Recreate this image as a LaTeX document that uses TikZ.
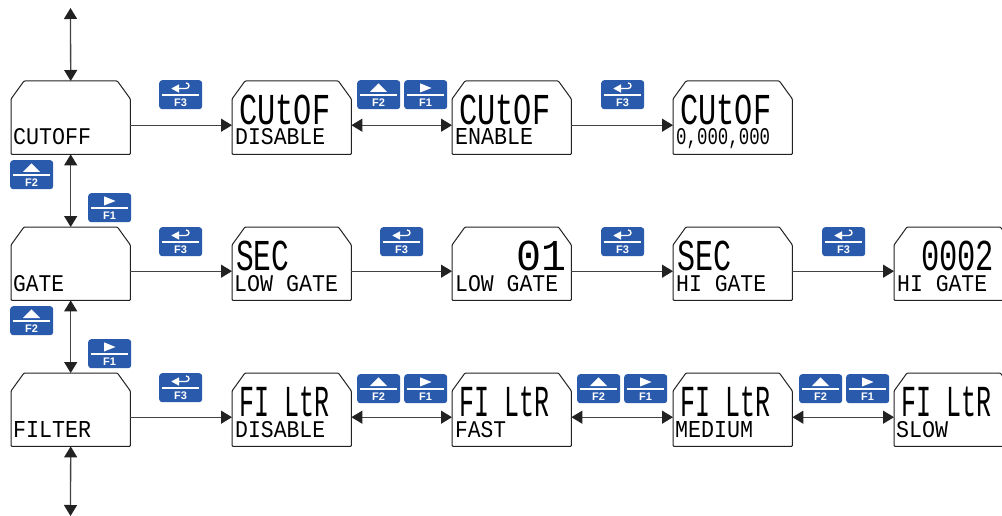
\documentclass[tikz,border=0pt]{standalone}
\usepackage{fontspec}
\usepackage{graphicx}
\setmainfont{Liberation Sans}
\newfontfamily\lcdthin{Liberation Mono}
\usetikzlibrary{arrows.meta}
\definecolor{keyblue}{HTML}{2A5AAB}
\definecolor{ink}{HTML}{222222}
\tikzset{
  lcdnode/.style={anchor=north west,minimum width=119pt,minimum height=73pt,inner sep=0pt},
  boxline/.style={draw=ink,line width=1pt,rounded corners=1pt},
  conn/.style={draw=ink!85,line width=1.3pt},
  tip1/.style={-{Triangle[length=11pt,width=13pt,color=ink]}},
  tip2/.style={{Triangle[length=11pt,width=13pt,color=ink]}-{Triangle[length=11pt,width=13pt,color=ink]}},
  keynode/.style={anchor=north west,minimum width=43pt,minimum height=29pt,inner sep=0pt,fill=keyblue,rounded corners=3pt},
  keylabel/.style={inner sep=0pt,text=white,font=\fontsize{11}{12}\selectfont\bfseries},
  lcdtext/.style={anchor=base west,inner sep=0pt,text=black}
}
% name, x, y of the top left corner
\newcommand{\lcdbox}[3]{%
  \node[lcdnode] (#1) at (#2,#3) {};
  \draw[boxline] ([yshift=-18pt]#1.north west) -- ([xshift=13pt]#1.north west) -- ([xshift=-13pt]#1.north east) -- ([yshift=-18pt]#1.north east) -- (#1.south east) -- (#1.south west) -- cycle;
}
% name, x, baseline y, width, text
\newcommand{\smalltxt}[5]{\node[lcdtext] (#1) at (#2,#3) {\resizebox{#4pt}{16pt}{\lcdthin #5}};}
\newcommand{\bigtxt}[5]{\node[lcdtext] (#1) at (#2,#3) {\resizebox{#4pt}{29.5pt}{\lcdthin #5}};}
% buttons: name, x, y
\newcommand{\keybase}[4]{%
  \node[keynode] (#1) at (#2,#3) {};
  \node[keylabel] (#1l) at ([shift={(21.5pt,-22.5pt)}]#1.north west) {#4};
  \draw[white,line width=1.3pt] ([shift={(2.5pt,-15pt)}]#1.north west) -- ([shift={(39.5pt,-15pt)}]#1.north west);
}
\newcommand{\keyup}[3]{\keybase{#1}{#2}{#3}{F2}
  \fill[white] ([shift={(21.5pt,-3.3pt)}]#1.north west) -- ([shift={(30pt,-12pt)}]#1.north west) -- ([shift={(13pt,-12pt)}]#1.north west) -- cycle;}
\newcommand{\keyright}[3]{\keybase{#1}{#2}{#3}{F1}
  \fill[white] ([shift={(16pt,-3.3pt)}]#1.north west) -- ([shift={(27.5pt,-8pt)}]#1.north west) -- ([shift={(16pt,-12.5pt)}]#1.north west) -- cycle;}
\newcommand{\keyenter}[3]{\keybase{#1}{#2}{#3}{F3}
  \fill[white] ([shift={(12.3pt,-8.5pt)}]#1.north west) -- ([shift={(20pt,-4.3pt)}]#1.north west) -- ([shift={(20pt,-12.7pt)}]#1.north west) -- cycle;
  \draw[white,line width=1.3pt] ([shift={(19pt,-8.5pt)}]#1.north west) -- ([shift={(27pt,-8.5pt)}]#1.north west) .. controls ([shift={(31pt,-8.5pt)}]#1.north west) and ([shift={(31pt,-3pt)}]#1.north west) .. ([shift={(27pt,-3pt)}]#1.north west);}
\newcommand{\hconn}[3]{\draw[conn,#3] ([yshift=-7.5pt]#1.east) -- ([yshift=-7.5pt]#2.west);}
\begin{document}
\begin{tikzpicture}[x=1pt,y=-1pt]
\path[use as bounding box,clip] (0,0) rectangle (1002,516);
\fill[white] (0,0) rectangle (1002,516);
% boxes
\lcdbox{cutoff}{11}{81}
\lcdbox{cutdis}{232}{81}
\lcdbox{cuten}{452}{81}
\lcdbox{cutval}{673}{81}
\lcdbox{gate}{11}{227}
\lcdbox{seclow}{232}{227}
\lcdbox{vallow}{452}{227}
\lcdbox{sechi}{673}{227}
\lcdbox{valhi}{894}{227}
\lcdbox{filter}{11}{373}
\lcdbox{fildis}{232}{373}
\lcdbox{filfast}{452}{373}
\lcdbox{filmed}{673}{373}
\lcdbox{filslow}{894}{373}
% small text
\smalltxt{t1}{13}{145}{78}{CUTOFF}
\smalltxt{t2}{235}{145}{90}{DISABLE}
\smalltxt{t3}{455}{145}{78}{ENABLE}
\smalltxt{t4}{676}{145}{94}{0,000,000}
\smalltxt{t5}{13}{291}{51}{GATE}
\smalltxt{t6}{234}{291}{104}{LOW GATE}
\smalltxt{t7}{455}{291}{103}{LOW GATE}
\smalltxt{t8}{676}{291}{90}{HI GATE}
\smalltxt{t9}{897}{291}{90}{HI GATE}
\smalltxt{t10}{13}{437}{78}{FILTER}
\smalltxt{t11}{235}{437}{90}{DISABLE}
\smalltxt{t12}{455}{437}{51}{FAST}
\smalltxt{t13}{675}{437}{78}{MEDIUM}
\smalltxt{t14}{896}{437}{52}{SLOW}
% large text
\bigtxt{b1}{239}{124.5}{91}{CUtOF}
\bigtxt{b2}{459}{124.5}{91}{CUtOF}
\bigtxt{b3}{680}{124.5}{91}{CUtOF}
\bigtxt{b4}{236}{270.5}{53}{SEC}
\bigtxt{b5}{516}{270.5}{50}{01}
\bigtxt{b6}{677}{270.5}{54}{SEC}
\bigtxt{b7}{921}{270.5}{73}{0002}
\bigtxt{b8}{239}{416.5}{90}{FI LtR}
\bigtxt{b9}{459}{416.5}{90}{FI LtR}
\bigtxt{b10}{680}{416.5}{90}{FI LtR}
\bigtxt{b11}{901}{416.5}{90}{FI LtR}
% connectors
\coordinate (topend) at (70.5,8);
\coordinate (botend) at (70.5,516);
\draw[conn,tip2] (topend) -- (cutoff.north);
\draw[conn,tip2] (cutoff.south) -- (gate.north);
\draw[conn,tip2] (gate.south) -- (filter.north);
\draw[conn,tip2] (filter.south) -- (botend);
\hconn{cutoff}{cutdis}{tip1}
\hconn{cutdis}{cuten}{tip2}
\hconn{cuten}{cutval}{tip1}
\hconn{gate}{seclow}{tip1}
\hconn{seclow}{vallow}{tip1}
\hconn{vallow}{sechi}{tip1}
\hconn{sechi}{valhi}{tip1}
\hconn{filter}{fildis}{tip1}
\hconn{fildis}{filfast}{tip2}
\hconn{filfast}{filmed}{tip2}
\hconn{filmed}{filslow}{tip2}
% keys
\keyenter{k1}{159}{80}
\keyup{k2}{357}{80}
\keyright{k3}{404}{80}
\keyenter{k4}{601}{80}
\keyup{k5}{10}{160}
\keyright{k6}{88}{193}
\keyenter{k7}{159}{227}
\keyenter{k8}{380}{227}
\keyenter{k9}{601}{227}
\keyenter{k10}{822}{227}
\keyup{k11}{10}{306}
\keyright{k12}{88}{339}
\keyenter{k13}{159}{373}
\keyup{k14}{357}{374}
\keyright{k15}{404}{374}
\keyup{k16}{577}{374}
\keyright{k17}{624}{374}
\keyup{k18}{799}{374}
\keyright{k19}{846}{374}
\end{tikzpicture}
\end{document}
